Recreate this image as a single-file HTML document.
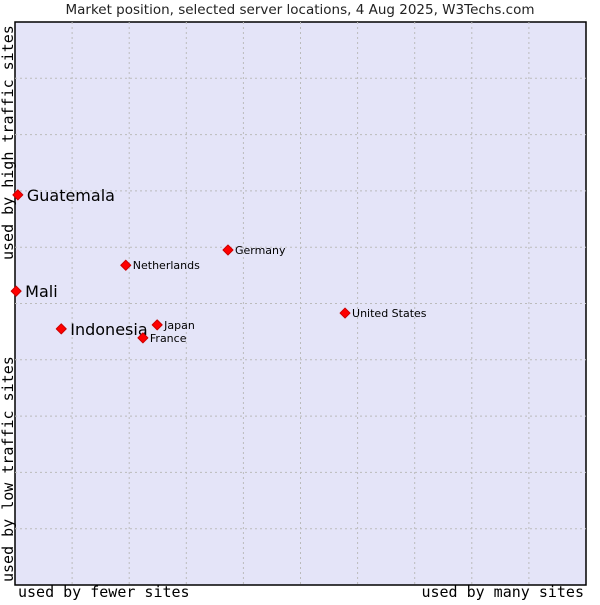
<!DOCTYPE html>
<html><head><meta charset="utf-8"><style>
body{margin:0;background:#fff;width:600px;height:600px;overflow:hidden}
svg text{font-family:"DejaVu Sans","Liberation Sans",sans-serif}
</style></head><body>
<svg id="c" width="600" height="600">
<text x="300" y="14" text-anchor="middle" font-size="13.5" fill="#222">Market position, selected server locations, 4 Aug 2025, W3Techs.com</text>
<rect x="15" y="22" width="571" height="563" fill="#e4e4f8" stroke="#000" stroke-width="1.5"/>
<g id="grid"></g>
<g id="pts"></g>
<text x="18" y="597" font-size="15" style="font-family:'DejaVu Sans Mono',monospace">used by fewer sites</text>
<text x="584" y="597" text-anchor="end" font-size="15" style="font-family:'DejaVu Sans Mono',monospace">used by many sites</text>
<text transform="translate(13,582) rotate(-90)" font-size="15" style="font-family:'DejaVu Sans Mono',monospace">used by low traffic sites</text>
<text transform="translate(13,260) rotate(-90)" font-size="15" style="font-family:'DejaVu Sans Mono',monospace">used by high traffic sites</text>
</svg>
<script>
const names=["Guatemala","Mali","Indonesia","Netherlands","Germany","Japan","France","United States"];
const xVals=[0.5,0.2,8.1,19.4,37.3,24.9,22.4,57.8];
const yVals=[69.3,52.2,45.5,56.8,59.5,46.2,43.9,48.3];
const big=[true,true,true,false,false,false,false,false];
const L=15,T=22,W=571,H=563,NS="http://www.w3.org/2000/svg";
const sx=v=>L+v/100*W, sy=v=>T+H-v/100*H;
const g=document.getElementById('grid');
for(let i=1;i<10;i++){
 const v=document.createElementNS(NS,'line');
 v.setAttribute('x1',sx(i*10));v.setAttribute('x2',sx(i*10));v.setAttribute('y1',T);v.setAttribute('y2',T+H);
 v.setAttribute('stroke','#bbb');v.setAttribute('stroke-dasharray','2,3');
 
 
 g.appendChild(v);
 const h=document.createElementNS(NS,'line');
 h.setAttribute('y1',sy(i*10));h.setAttribute('y2',sy(i*10));h.setAttribute('x1',L);h.setAttribute('x2',L+W);
 h.setAttribute('stroke','#bbb');h.setAttribute('stroke-dasharray','2,3');
 
 
 g.appendChild(h);
}
const p=document.getElementById('pts');
names.forEach((n,i)=>{
 const x=sx(xVals[i]),y=sy(yVals[i]);
 const d=document.createElementNS(NS,'path');
 d.setAttribute('d',`M${x-5},${y}L${x},${y-5}L${x+5},${y}L${x},${y+5}Z`);
 d.setAttribute('fill','#f00');d.setAttribute('stroke','#c00');d.setAttribute('stroke-linejoin','round');
 
 
 p.appendChild(d);
 const t=document.createElementNS(NS,'text');
 t.setAttribute('x',x+(big[i]?9:7));t.setAttribute('y',y+(big[i]?6:4));
 t.setAttribute('font-size',big[i]?16:11);
 t.textContent=n;
 
 
 p.appendChild(t);
});
</script>
</body></html>
